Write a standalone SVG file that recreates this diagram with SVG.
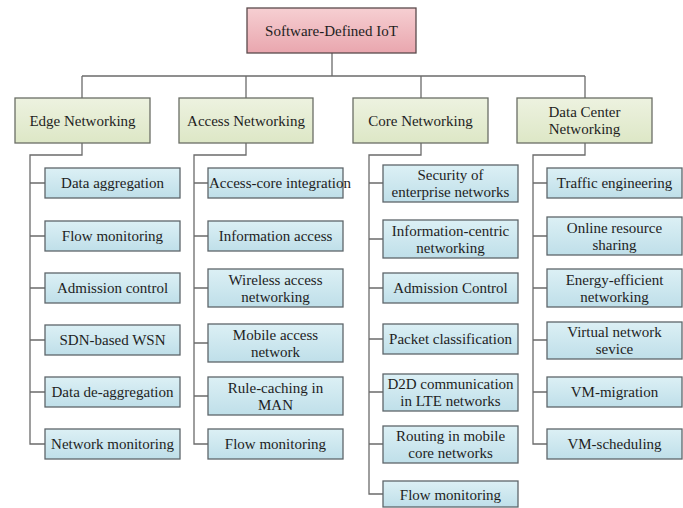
<svg xmlns="http://www.w3.org/2000/svg" width="683" height="508" viewBox="0 0 683 508">
<defs>
<linearGradient id="gRoot" x1="0" y1="0" x2="0" y2="1"><stop offset="0" stop-color="#f6cfd2"/><stop offset="1" stop-color="#e9a6ae"/></linearGradient>
<linearGradient id="gL1" x1="0" y1="0" x2="0" y2="1"><stop offset="0" stop-color="#edf2e0"/><stop offset="1" stop-color="#dde7c6"/></linearGradient>
<linearGradient id="gL2" x1="0" y1="0" x2="0" y2="1"><stop offset="0" stop-color="#dcf0f5"/><stop offset="1" stop-color="#bfdfe9"/></linearGradient>
</defs>
<style>
text{font-family:'Liberation Serif','Times New Roman',serif;font-size:15px;fill:#1e1e1e;text-anchor:middle;dominant-baseline:central}
.root{fill:url(#gRoot);stroke:#5a4a4c;stroke-width:1.3}
.l1{fill:url(#gL1);stroke:#6a6e66;stroke-width:1.3}
.l2{fill:url(#gL2);stroke:#5e666a;stroke-width:1.3}
.conn path{fill:none;stroke:#6b6b6b;stroke-width:1.3}
</style>
<rect width="683" height="508" fill="#fff"/>
<g class="conn" id="connectors">
<path d="M332,53V76M82,76H585M82,76V98M246,76V98M421,76V98M585,76V98"/>
<path d="M82,143V155H30V444H45M30,183H45M30,236H45M30,288H45M30,340H45M30,392H45"/>
<path d="M246,143V155H194V444H208M194,183H208M194,236H208M194,288H208M194,343H208M194,396H208"/>
<path d="M421,143V155H369V494H383M369,183H383M369,239H383M369,288H383M369,339H383M369,392H383M369,444H383"/>
<path d="M585,143V155H533V444H547M533,183H547M533,236H547M533,288H547M533,340H547M533,392H547"/>
</g>
<g id="root"><rect class="root" x="247" y="8" width="169" height="45"/><text x="331.5" y="31">Software-Defined IoT</text></g>
<g id="edge"><rect class="l1" x="15" y="98" width="135" height="45"/><text x="82.5" y="120.5">Edge Networking</text></g>
<g id="access"><rect class="l1" x="179" y="98" width="134" height="45"/><text x="246" y="120.5">Access Networking</text></g>
<g id="core"><rect class="l1" x="353" y="98" width="135" height="45"/><text x="420.5" y="120.5">Core Networking</text></g>
<g id="dc"><rect class="l1" x="517" y="98" width="135" height="45"/><text x="584.5" y="112">Data Center</text><text x="584.5" y="129">Networking</text></g>

<g id="e1"><rect class="l2" x="45" y="168" width="135" height="30"/><text x="112.5" y="183">Data aggregation</text></g>
<g id="e2"><rect class="l2" x="45" y="221" width="135" height="30"/><text x="112.5" y="236">Flow monitoring</text></g>
<g id="e3"><rect class="l2" x="45" y="273" width="135" height="30"/><text x="112.5" y="288">Admission control</text></g>
<g id="e4"><rect class="l2" x="45" y="325" width="135" height="30"/><text x="112.5" y="340">SDN-based WSN</text></g>
<g id="e5"><rect class="l2" x="45" y="377" width="135" height="30"/><text x="112.5" y="392">Data de-aggregation</text></g>
<g id="e6"><rect class="l2" x="45" y="429" width="135" height="30"/><text x="112.5" y="444">Network monitoring</text></g>

<g id="a1"><rect class="l2" x="208" y="168" width="135" height="30"/><text x="280" y="183">Access-core integration</text></g>
<g id="a2"><rect class="l2" x="208" y="221" width="135" height="30"/><text x="275.5" y="236">Information access</text></g>
<g id="a3"><rect class="l2" x="208" y="269" width="135" height="38"/><text x="275.5" y="279.5">Wireless access</text><text x="275.5" y="296.5">networking</text></g>
<g id="a4"><rect class="l2" x="208" y="324" width="135" height="38"/><text x="275.5" y="334.5">Mobile access</text><text x="275.5" y="351.5">network</text></g>
<g id="a5"><rect class="l2" x="208" y="377" width="135" height="38"/><text x="275.5" y="387.5">Rule-caching in</text><text x="275.5" y="404.5">MAN</text></g>
<g id="a6"><rect class="l2" x="208" y="429" width="135" height="30"/><text x="275.5" y="444">Flow monitoring</text></g>

<g id="c1"><rect class="l2" x="383" y="165" width="135" height="37"/><text x="450.5" y="175">Security of</text><text x="450.5" y="192">enterprise networks</text></g>
<g id="c2"><rect class="l2" x="383" y="220" width="135" height="38"/><text x="450.5" y="230.5">Information-centric</text><text x="450.5" y="247.5">networking</text></g>
<g id="c3"><rect class="l2" x="383" y="273" width="135" height="30"/><text x="450.5" y="288">Admission Control</text></g>
<g id="c4"><rect class="l2" x="383" y="324" width="135" height="30"/><text x="450.5" y="339">Packet classification</text></g>
<g id="c5"><rect class="l2" x="383" y="374" width="135" height="37"/><text x="450.5" y="384">D2D communication</text><text x="450.5" y="401">in LTE networks</text></g>
<g id="c6"><rect class="l2" x="383" y="426" width="135" height="37"/><text x="450.5" y="436">Routing in mobile</text><text x="450.5" y="453">core networks</text></g>
<g id="c7"><rect class="l2" x="383" y="481" width="135" height="26"/><text x="450.5" y="495">Flow monitoring</text></g>

<g id="d1"><rect class="l2" x="547" y="168" width="135" height="30"/><text x="614.5" y="183">Traffic engineering</text></g>
<g id="d2"><rect class="l2" x="547" y="217" width="135" height="38"/><text x="614.5" y="227.5">Online resource</text><text x="614.5" y="244.5">sharing</text></g>
<g id="d3"><rect class="l2" x="547" y="269" width="135" height="38"/><text x="614.5" y="279.5">Energy-efficient</text><text x="614.5" y="296.5">networking</text></g>
<g id="d4"><rect class="l2" x="547" y="322" width="135" height="37"/><text x="614.5" y="332">Virtual network</text><text x="614.5" y="349">sevice</text></g>
<g id="d5"><rect class="l2" x="547" y="377" width="135" height="30"/><text x="614.5" y="392">VM-migration</text></g>
<g id="d6"><rect class="l2" x="547" y="429" width="135" height="30"/><text x="614.5" y="444">VM-scheduling</text></g>
</svg>
